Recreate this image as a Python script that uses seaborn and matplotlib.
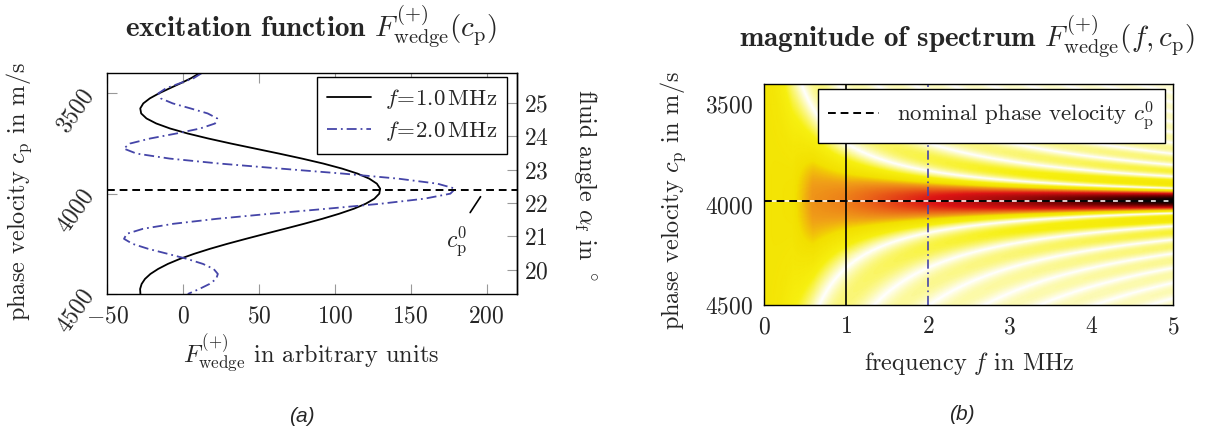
import numpy as np
import matplotlib
matplotlib.use("Agg")
import matplotlib.pyplot as plt
from matplotlib.colors import LinearSegmentedColormap
import seaborn as sns

# ------------------------------------------------------------
# values
# ------------------------------------------------------------
# phase velocities where the two excitation curves were read (m/s)
cp_read = [3400, 3425, 3450, 3475, 3500, 3525, 3550, 3575, 3600, 3625,
           3650, 3675, 3700, 3725, 3750, 3775, 3800, 3825, 3850, 3875,
           3900, 3925, 3950, 3975, 4000, 4025, 4050, 4075, 4100, 4125,
           4150, 4175, 4200, 4225, 4250, 4275, 4300, 4325, 4350, 4375,
           4400, 4425, 4450, 4475, 4500]

# excitation function at f = 1.0 MHz (arbitrary units)
exc_1mhz = [10.8, 5.2, -1.6, -8.8, -15.8, -21.8, -26.1, -28.1, -27.5, -24.0,
            -17.6, -8.5, 3.1, 16.7, 31.6, 47.4, 63.2, 78.4, 92.5, 104.8,
            115.0, 122.7, 127.7, 129.9, 129.3, 126.1, 120.4, 112.6, 102.9, 91.9,
            79.8, 67.1, 54.2, 41.5, 29.2, 17.7, 7.3, -2.0, -9.9, -16.3,
            -21.4, -25.0, -27.2, -28.2, -28.0]

# excitation function at f = 2.0 MHz (arbitrary units)
exc_2mhz = [12.2, 6.9, -2.2, -11.2, -16.2, -14.6, -6.7, 5.0, 16.3, 22.6,
            21.2, 11.4, -4.3, -21.6, -34.8, -39.0, -30.6, -8.8, 24.3, 64.3,
            105.5, 141.7, 167.5, 179.4, 176.1, 159.0, 130.4, 94.9, 57.5, 22.6,
            -6.2, -26.3, -37.0, -38.8, -33.2, -22.8, -9.9, 2.7, 13.2, 20.2,
            23.0, 21.9, 17.5, 10.8, 3.2]

c0_nominal = 3982.0            # nominal phase velocity (dashed line)
c_fluid = 1485.0               # fluid sound speed behind the angle axis
slice_freqs = [1.0, 2.0]       # frequencies of the two curves in (a)

# spectrum: first zeros of the 1 MHz curve, peak height along c0 vs frequency
zero_cp_1mhz = [3687, 4309]
peak_freq = [0.0, 0.35, 0.6, 1.0, 2.0, 3.0, 5.0]
peak_amp = [80, 86, 122, 132, 180, 225, 330]

cp_lim = (3400, 4500)
f_lim = (0, 5)

# ------------------------------------------------------------
# spectrum map built from the values above
# ------------------------------------------------------------
freq_axis = np.linspace(f_lim[0], f_lim[1], 501)
cp_axis = np.linspace(cp_lim[0], cp_lim[1], 441)
half_width = (1 / zero_cp_1mhz[0] - 1 / zero_cp_1mhz[1]) / 2
slowness = 1 / cp_axis[:, None] - 1 / c0_nominal
amp = np.interp(freq_axis, peak_freq, peak_amp)
spectrum = amp[None, :] * np.abs(np.sinc(freq_axis[None, :] * slowness / half_width))

# ------------------------------------------------------------
# style
# ------------------------------------------------------------
sns.set_theme(style="ticks")
plt.rcParams["font.family"] = ["cmr10", "DejaVu Serif"]
plt.rcParams["mathtext.fontset"] = "cm"
plt.rcParams["axes.formatter.use_mathtext"] = True
plt.rcParams["axes.unicode_minus"] = True
plt.rcParams["axes.edgecolor"] = "black"
plt.rcParams["axes.linewidth"] = 1.0

FS = 17
LFS = 17.5
blue = "#4545a8"
dashdot = (0, (5.5, 2.2, 1.0, 2.2))
dashed = (0, (4, 2.5))

heat_cmap = LinearSegmentedColormap.from_list(
    "wedge_hot",
    [(0.0, "#ffffff"), (0.15, "#f7f010"), (0.28, "#f2e000"),
     (0.35, "#f0a018"), (0.44, "#ea6418"), (0.55, "#dc1414"),
     (0.8, "#680000"), (1.0, "#000000")])

W, H = 1208, 430
fig = plt.figure(figsize=(W / 100, H / 100), dpi=100)
ax1 = fig.add_axes([107 / W, 1 - 294 / H, 410 / W, 220.7 / H])
ax2 = fig.add_axes([764.3 / W, 1 - 305 / H, 408.7 / W, 220.7 / H])

# ============================================================
# (a) excitation function
# ============================================================
sns.lineplot(x=exc_1mhz, y=cp_read, orient="y", estimator=None, ax=ax1,
             color="black", lw=1.3, label=r"$f\!=\!1.0\,\mathrm{MHz}$")
sns.lineplot(x=exc_2mhz, y=cp_read, orient="y", estimator=None, ax=ax1,
             color=blue, lw=1.3, linestyle=dashdot,
             label=r"$f\!=\!2.0\,\mathrm{MHz}$")
ax1.axhline(c0_nominal, color="black", lw=1.4, linestyle=dashed, zorder=3)

ax1.annotate(r"$c_\mathrm{p}^0$", xy=(196, c0_nominal + 33),
             xytext=(180, 4235), ha="center", va="center", fontsize=FS,
             arrowprops=dict(arrowstyle="-", lw=1.2, color="black",
                             relpos=(0.8, 1.0), shrinkA=7, shrinkB=0))

ax1.set_xlim(-50, 220)
ax1.set_ylim(cp_lim[1], cp_lim[0])
ax1.set_xticks([-50, 0, 50, 100, 150, 200])
ax1.set_yticks([3500, 4000, 4500])
ax1.tick_params(direction="in", length=7, width=0.8, color="#999999",
                labelsize=FS, top=True, right=False)
ax1.tick_params(axis="x", pad=8)
ax1.tick_params(axis="y", pad=6, labelrotation=55)
ax1.set_xlabel("")
ax1.set_ylabel("")

leg1 = ax1.legend(loc="upper right", bbox_to_anchor=(0.976, 0.983),
                  borderaxespad=0, fontsize=FS - 0.5, frameon=True,
                  fancybox=False, framealpha=1, edgecolor="black",
                  handlelength=1.9, handletextpad=0.6, borderpad=0.45,
                  labelspacing=0.35)
leg1.get_frame().set_linewidth(1.0)

# fluid angle axis on the right, linear between the limit angles
ang_top = np.degrees(np.arcsin(c_fluid / cp_lim[0]))
ang_bot = np.degrees(np.arcsin(c_fluid / cp_lim[1]))
span = (ang_bot - ang_top) / (cp_lim[1] - cp_lim[0])


def cp_to_ang(c):
    return ang_top + (np.asarray(c) - cp_lim[0]) * span


def ang_to_cp(a):
    return cp_lim[0] + (np.asarray(a) - ang_top) / span


sec = ax1.secondary_yaxis("right", functions=(cp_to_ang, ang_to_cp))
sec.set_yticks([20, 21, 22, 23, 24, 25])
sec.tick_params(direction="in", length=7, width=0.8, color="#999999",
                labelsize=FS, pad=5)
sec.spines["right"].set_linewidth(1.0)

# ============================================================
# (b) magnitude of spectrum
# ============================================================
ax2.pcolormesh(freq_axis, cp_axis, spectrum, cmap=heat_cmap, vmin=0,
               vmax=peak_amp[-1], shading="gouraud", rasterized=True)
ax2.axvline(slice_freqs[0], color="black", lw=1.2)
ax2.axvline(slice_freqs[1], color=blue, lw=1.2, linestyle=dashdot)
ax2.axhline(c0_nominal, color="white", lw=1.4, alpha=0.8)
ax2.axhline(c0_nominal, color="black", lw=1.4, linestyle=dashed,
            label=r"nominal phase velocity $c_\mathrm{p}^0$")

ax2.set_xlim(*f_lim)
ax2.set_ylim(cp_lim[1], cp_lim[0])
ax2.set_xticks([0, 1, 2, 3, 4, 5])
ax2.set_yticks([3500, 4000, 4500])
ax2.tick_params(direction="in", length=7, width=0.8, color="#999999",
                labelsize=FS, top=True, right=True)
ax2.tick_params(axis="x", pad=8)
ax2.tick_params(axis="y", pad=8)
for sp in ax2.spines.values():
    sp.set_zorder(5)

leg2 = ax2.legend(loc="upper right", bbox_to_anchor=(0.98, 0.979),
                  borderaxespad=0, fontsize=FS - 0.5, frameon=True,
                  fancybox=False, framealpha=1, edgecolor="black",
                  handlelength=2.2, borderpad=0.45)
leg2.get_frame().set_linewidth(1.0)

# ============================================================
# titles, axis labels, captions
# ============================================================
fig.text(311 / W, 1 - 37 / H,
         r"excitation function $F^{(+)}_\mathrm{wedge}(c_\mathrm{p})$",
         ha="center", va="baseline", fontsize=21, family="cmb10")
fig.text(967 / W, 1 - 47 / H,
         r"magnitude of spectrum $F^{(+)}_\mathrm{wedge}(f, c_\mathrm{p})$",
         ha="center", va="baseline", fontsize=21, family="cmb10")

fig.text(19 / W, 1 - 192 / H, r"phase velocity $c_\mathrm{p}$ in m/s",
         rotation=90, ha="center", va="center", fontsize=LFS)
fig.text(585 / W, 1 - 185 / H, r"fluid angle $\alpha_\mathrm{f}$ in $^\circ$",
         rotation=270, ha="center", va="center", fontsize=LFS)
fig.text(311.5 / W, 1 - 362 / H, r"$F^{(+)}_\mathrm{wedge}$ in arbitrary units",
         ha="center", va="baseline", fontsize=LFS)

fig.text(673 / W, 1 - 201 / H, r"phase velocity $c_\mathrm{p}$ in m/s",
         rotation=90, ha="center", va="center", fontsize=LFS)
fig.text(969 / W, 1 - 370 / H, r"frequency $f$ in MHz",
         ha="center", va="baseline", fontsize=LFS)

fig.text(302 / W, 1 - 417 / H, "(a)", ha="center", va="center",
         fontsize=15, style="italic", family="Liberation Sans")
fig.text(962 / W, 1 - 415 / H, "(b)", ha="center", va="center",
         fontsize=15, style="italic", family="Liberation Sans")

fig.savefig("out.png", dpi=100)
